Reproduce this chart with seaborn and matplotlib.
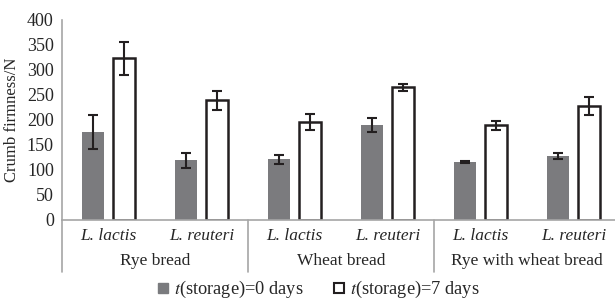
import matplotlib
matplotlib.use("Agg")
import matplotlib.pyplot as plt
from matplotlib.lines import Line2D
import matplotlib.transforms as mtransforms
import seaborn as sns
import pandas as pd

# data
breads = ["Rye bread", "Wheat bread", "Rye with wheat bread"]
strains = ["L. lactis", "L. reuteri"]
day0 = [176, 119, 121, 189, 116, 127]
day0_err = [34, 15, 9, 14, 2, 6]
day7 = [323, 239, 195, 265, 189, 227]
day7_err = [33, 19, 16, 7, 9, 18]

cats = [f"{b}|{s}" for b in breads for s in strains]
df = pd.DataFrame({
    "cat": cats * 2,
    "storage": ["0 days"] * 6 + ["7 days"] * 6,
    "firmness": day0 + day7,
    "err": day0_err + day7_err,
})

sns.set_style("white")
plt.rcParams["font.family"] = ["Liberation Serif", "DejaVu Serif"]
plt.rcParams["mathtext.fontset"] = "stix"

fig = plt.figure(figsize=(6.15, 3.0), dpi=100)
ax = fig.add_axes([0.101, 0.267, 0.907, 0.667])

sns.barplot(data=df, x="cat", y="firmness", hue="storage", order=cats,
            hue_order=["0 days", "7 days"],
            palette={"0 days": "#7a7b7e", "7 days": "white"},
            width=0.667, gap=0.29, errorbar=None, legend=False, ax=ax)

# style the bars and add error bars at their centres
bars = ax.patches[:12]
for i, p in enumerate(bars):
    if i >= 6:
        p.set_edgecolor("#231f20")
        p.set_linewidth(1.8)
    else:
        p.set_edgecolor("#7a7b7e")
        p.set_linewidth(0)
xs = [p.get_x() + p.get_width() / 2 for p in bars]
ax.errorbar(xs, df["firmness"], yerr=df["err"], fmt="none",
            ecolor="#231f20", elinewidth=1.5, capsize=3.5, capthick=1.5, zorder=5)

ax.set_ylim(0, 400)
ax.set_xlim(-0.5, 5.5)
ax.set_yticks(range(0, 401, 50))
ax.tick_params(axis="y", length=0, pad=6, labelsize=13)
ax.set_ylabel("Crumb firmness/N", fontsize=12, labelpad=5)
ax.set_xlabel("")
ax.set_xticks(range(6))
ax.set_xticklabels(strains * 3, style="italic", fontsize=12.5)
ax.tick_params(axis="x", length=0, pad=6)
for s in ["top", "right"]:
    ax.spines[s].set_visible(False)
for s in ["left", "bottom"]:
    ax.spines[s].set_color("#a6a6a6")
    ax.spines[s].set_linewidth(1.2)

# group labels and separators under the axis
trans = mtransforms.blended_transform_factory(ax.transData, ax.transAxes)
for k, b in enumerate(breads):
    ax.text(2 * k + 0.5, -0.205, b, transform=trans, ha="center", va="center",
            fontsize=12.5)
for xsep in [-0.5, 1.5, 3.5]:
    ax.plot([xsep, xsep], [0, -0.26], transform=trans, color="#a6a6a6",
            lw=1.2, clip_on=False)

handles = [
    Line2D([], [], marker="s", ls="none", markersize=6.5,
           markerfacecolor="#7a7b7e", markeredgecolor="#7a7b7e"),
    Line2D([], [], marker="s", ls="none", markersize=6.5,
           markerfacecolor="white", markeredgecolor="#231f20", markeredgewidth=1.5),
]
fig.legend(handles, ["$t$(storage)=0 days", "$t$(storage)=7 days"],
           loc="center", bbox_to_anchor=(0.515, 0.035), ncol=2, frameon=False,
           fontsize=13.2, handletextpad=0.1, columnspacing=1.45, handlelength=1.0)

fig.savefig("out.png", dpi=100)
